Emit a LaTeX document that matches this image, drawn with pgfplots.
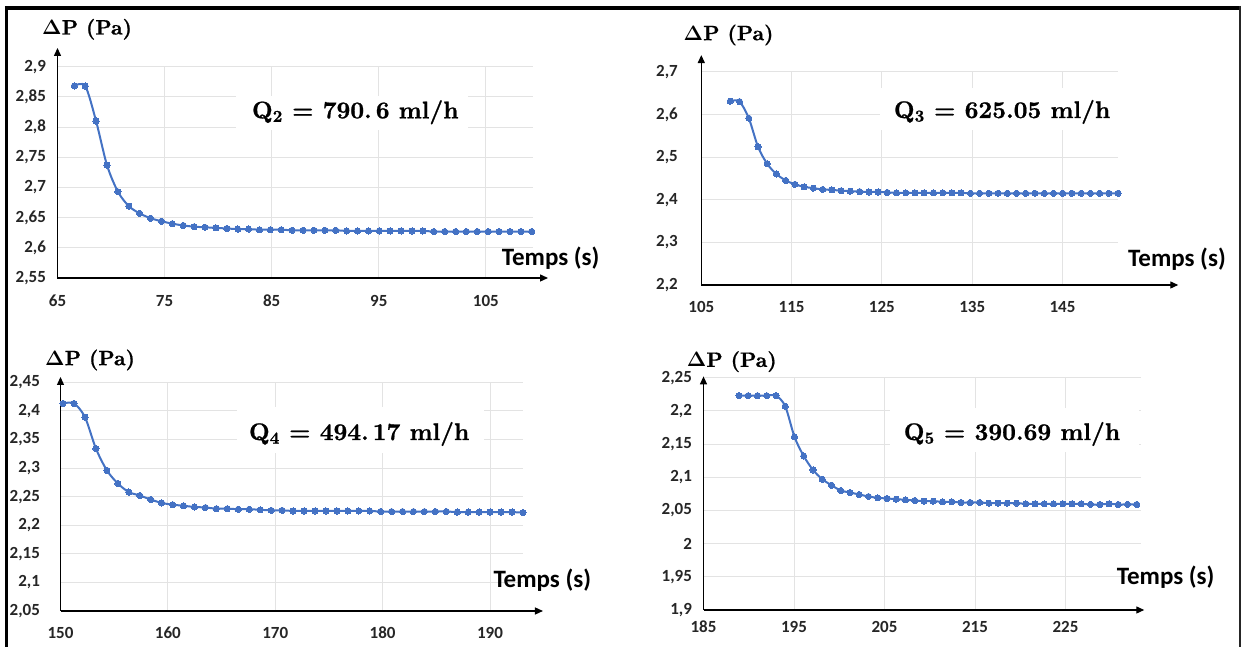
\RequirePackage{fix-cm}
\documentclass[border=0pt]{standalone}
\usepackage[no-math]{fontspec}
\usepackage{pgfplots}
\pgfplotsset{compat=1.18}
\usetikzlibrary{arrows.meta}
\newfontfamily\calib{Carlito}
\newfontfamily\lmbx{lmroman10-bold.otf}[FakeBold=0.9]
\definecolor{xlblue}{HTML}{4472C4}
\definecolor{gridc}{HTML}{E3E3E3}
\definecolor{tickc}{HTML}{262626}

\newcommand\Dlt{\begingroup\boldmath$\Delta$\endgroup}
\newcommand\Qlab[2]{\lmbx Q\textsubscript{#1} = #2 ml/h}
\newcommand\DPlab{\lmbx\Dlt P (Pa)}
\newcommand\qfont{\fontsize{24}{28}\selectfont}
\newcommand\dpfont{\fontsize{20.8}{24}\selectfont}
\newcommand\tpfont{\fontsize{25}{30}\selectfont\calib\bfseries}
\newcommand\tkfont{\fontsize{17}{20}\selectfont\calib\bfseries}

\tikzset{myarrow/.style={black, line width=1.3pt, -{Triangle[length=8pt,width=7pt]}},
  qn/.style={anchor=base west, inner sep=0pt, font=\qfont},
  dp/.style={anchor=west, inner sep=0pt, font=\dpfont},
  tp/.style={anchor=west, inner sep=0pt, font=\tpfont}}
\pgfplotsset{
 myax/.style={
  scale only axis,
  anchor=south west,
  axis line style={draw=none},
  major tick length=0pt,
  grid=major,
  major grid style={gridc, line width=0.9pt},
  tick label style={font=\tkfont, text=tickc},
  /pgf/number format/assume math mode=true,
  /pgf/number format/use comma,
  /pgf/number format/fixed,
  /pgf/number format/precision=2,
  yticklabel style={anchor=east, xshift=-8pt},
  clip=false,
 },
 myline/.style={xlblue, line width=2pt, smooth, mark=*, mark size=3.1pt,
   mark options={fill=xlblue, draw=xlblue, line width=0pt}},
}

\pgfplotstableread{
t p
66.57 2.868
67.59 2.868
68.60 2.810
69.62 2.737
70.64 2.693
71.66 2.669
72.67 2.657
73.69 2.649
74.71 2.644
75.72 2.640
76.74 2.637
77.76 2.635
78.77 2.634
79.79 2.633
80.81 2.632
81.83 2.631
82.84 2.631
83.86 2.630
84.88 2.630
85.89 2.630
86.91 2.629
87.93 2.629
88.94 2.629
89.96 2.629
90.98 2.629
92.00 2.628
93.01 2.628
94.03 2.628
95.05 2.628
96.06 2.628
97.08 2.628
98.10 2.628
99.11 2.628
100.13 2.627
101.15 2.627
102.17 2.627
103.18 2.627
104.20 2.627
105.22 2.627
106.23 2.627
107.25 2.627
108.27 2.627
109.28 2.627
}\dataA

\pgfplotstableread{
t p
108.21 2.631
109.23 2.630
110.26 2.591
111.28 2.524
112.30 2.484
113.32 2.460
114.35 2.445
115.37 2.436
116.39 2.430
117.41 2.427
118.44 2.424
119.46 2.423
120.48 2.421
121.50 2.420
122.53 2.419
123.55 2.418
124.57 2.418
125.59 2.417
126.62 2.416
127.64 2.416
128.66 2.416
129.68 2.416
130.71 2.416
131.73 2.416
132.75 2.416
133.77 2.416
134.80 2.415
135.82 2.415
136.84 2.415
137.86 2.415
138.89 2.415
139.91 2.415
140.93 2.415
141.95 2.415
142.98 2.415
144.00 2.415
145.02 2.415
146.04 2.415
147.07 2.415
148.09 2.415
149.11 2.415
150.13 2.415
151.16 2.415
}\dataB

\pgfplotstableread{
t p
150.24 2.413
151.26 2.413
152.28 2.389
153.30 2.334
154.32 2.296
155.34 2.273
156.36 2.258
157.38 2.252
158.40 2.245
159.42 2.239
160.44 2.236
161.46 2.234
162.48 2.232
163.50 2.231
164.52 2.229
165.54 2.229
166.56 2.228
167.58 2.228
168.60 2.227
169.62 2.226
170.64 2.226
171.66 2.225
172.68 2.225
173.70 2.225
174.72 2.225
175.74 2.225
176.75 2.225
177.77 2.225
178.79 2.225
179.81 2.224
180.83 2.224
181.85 2.224
182.87 2.224
183.89 2.224
184.91 2.224
185.93 2.224
186.95 2.223
187.97 2.223
188.99 2.223
190.01 2.223
191.03 2.223
192.05 2.223
193.07 2.222
}\dataC

\pgfplotstableread{
t p
188.92 2.223
189.94 2.223
190.96 2.223
191.99 2.223
193.01 2.223
194.03 2.207
195.05 2.161
196.07 2.132
197.10 2.111
198.12 2.097
199.14 2.088
200.16 2.080
201.19 2.077
202.21 2.074
203.23 2.071
204.25 2.069
205.27 2.068
206.30 2.067
207.32 2.066
208.34 2.065
209.36 2.064
210.39 2.064
211.41 2.063
212.43 2.063
213.45 2.062
214.47 2.062
215.50 2.062
216.52 2.061
217.54 2.061
218.56 2.061
219.59 2.061
220.61 2.060
221.63 2.060
222.65 2.060
223.67 2.060
224.70 2.060
225.72 2.060
226.74 2.060
227.76 2.059
228.79 2.059
229.81 2.060
230.83 2.059
231.85 2.059
232.87 2.059
}\dataD

\begin{document}
\begin{tikzpicture}[x=1pt,y=1pt]
\useasboundingbox (0,0) rectangle (1242,647);
\fill[white] (0,0) rectangle (1242,647);

% ---------- Plot 1 ----------
\begin{axis}[myax, at={(57.5pt,369pt)}, width=475.2pt, height=211.3pt,
  xmin=65, xmax=109.37, ymin=2.55, ymax=2.9,
  xtick={65,75,85,95,105},
  ytick={2.55,2.6,2.65,2.7,2.75,2.8,2.85,2.9},
  xticklabel style={anchor=center, yshift=-23pt}]
\addplot[myline] table[x=t,y=p] {\dataA};
\draw[myarrow] (axis cs:65,2.55) -- (axis cs:110.8,2.55);
\draw[myarrow] (axis cs:65,2.55) -- (axis cs:65,2.931);
\end{axis}

% ---------- Plot 2 ----------
\begin{axis}[myax, at={(701.3pt,362pt)}, width=417pt, height=213.3pt,
  xmin=105, xmax=151.18, ymin=2.2, ymax=2.7,
  xtick={105,115,125,135,145},
  ytick={2.2,2.3,2.4,2.5,2.6,2.7},
  yticklabel style={xshift=-12pt},
  xticklabel style={anchor=center, yshift=-21.7pt}]
\addplot[myline] table[x=t,y=p] {\dataB};
\draw[myarrow] (axis cs:105,2.2) -- (axis cs:157.82,2.2);
\draw[myarrow] (axis cs:105,2.2) -- (axis cs:105,2.739);
\end{axis}

% ---------- Plot 3 ----------
\begin{axis}[myax, at={(60.5pt,36pt)}, width=462.5pt, height=228.7pt,
  xmin=150, xmax=193.07, ymin=2.05, ymax=2.45,
  xtick={150,160,170,180,190},
  ytick={2.05,2.1,2.15,2.2,2.25,2.3,2.35,2.4,2.45},
  yticklabel style={xshift=-9pt},
  xticklabel style={anchor=center, yshift=-21.7pt}]
\addplot[myline] table[x=t,y=p] {\dataC};
\draw[myarrow] (axis cs:150,2.05) -- (axis cs:194.93,2.05);
\draw[myarrow] (axis cs:150,2.05) -- (axis cs:150,2.4593);
\end{axis}

% ---------- Plot 4 ----------
\begin{axis}[myax, at={(703.5pt,37pt)}, width=437.5pt, height=232.3pt,
  xmin=185, xmax=233.34, ymin=1.9, ymax=2.25,
  xtick={185,195,205,215,225},
  ytick={1.9,1.95,2,2.05,2.1,2.15,2.2,2.25},
  xticklabel style={anchor=center, yshift=-16.7pt}]
\addplot[myline] table[x=t,y=p] {\dataD};
\draw[myarrow] (axis cs:185,1.9) -- (axis cs:233.7,1.9);
\draw[myarrow] (axis cs:185,1.9) -- (axis cs:185,2.252);
\end{axis}

% ---------- white boxes behind annotations ----------
\fill[white] (236,517) rectangle (468,551);
\fill[white] (880,517) rectangle (1118,559);
\fill[white] (237,194) rectangle (484,240);
\fill[white] (890,195) rectangle (1139,239);

% ---------- annotations ----------
\node[qn] at (251.8,528.7) {\Qlab{2}{790.\,6}};
\node[qn] at (893.7,529) {\Qlab{3}{625.05}};
\node[qn] at (248.8,207) {\Qlab{4}{494.\,17}};
\node[qn] at (903.6,207) {\Qlab{5}{390.69}};

% ---------- axis titles ----------
\node[dp] at (42,617.7) {\DPlab};
\node[dp] at (683.5,612) {\DPlab};
\node[dp] at (45,287) {\DPlab};
\node[dp] at (686.7,285.3) {\DPlab};

\node[tp] at (501.7,388.7) {Temps (s)};
\node[tp] at (1128,387.7) {Temps (s)};
\node[tp] at (493.3,67) {Temps (s)};
\node[tp] at (1116.7,69.7) {Temps (s)};

% ---------- outer frame ----------
\draw[black, line width=3.5pt] (6.5,0) -- (6.5,639);
\draw[black, line width=4pt] (4.75,639) -- (1241,639);
\draw[black!85, line width=2pt] (1240,641) -- (1240,0);
\end{tikzpicture}
\end{document}
